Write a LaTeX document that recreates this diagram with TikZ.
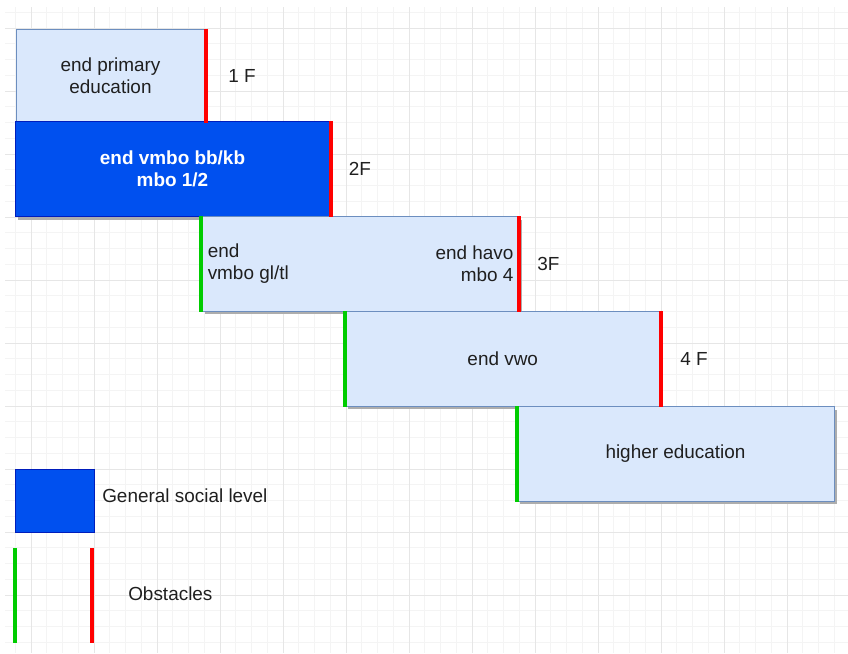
\documentclass[tikz,border=0pt]{standalone}
\usepackage{fontspec}
\setmainfont{Liberation Sans}
\usetikzlibrary{shadows}

\definecolor{boxfill}{HTML}{DAE8FC}
\definecolor{boxline}{HTML}{6C8EBF}
\definecolor{darkfill}{HTML}{0050EF}
\definecolor{darkline}{HTML}{001DBC}
\definecolor{barred}{HTML}{FF0000}
\definecolor{bargreen}{HTML}{00CC00}
\definecolor{gridminor}{HTML}{F4F4F4}
\definecolor{gridmajor}{HTML}{E6E6E6}

\begin{document}
\begin{tikzpicture}[x=0.75pt, y=-0.75pt,
  every node/.style={font=\fontsize{14.2pt}{16.5pt}\selectfont, text=black!88},
  shadowed/.style={drop shadow={shadow xshift=2.25pt, shadow yshift=-2.25pt, fill=black!32, opacity=1}},
  box/.style={draw=boxline, fill=boxfill, line width=0.75pt, inner sep=0pt, align=center,
    minimum width=236.25pt, minimum height=71pt},
  darkbox/.style={box, draw=darkline, fill=darkfill, text=white, font=\fontsize{14.2pt}{16.5pt}\selectfont\bfseries},
  lbl/.style={inner sep=0pt},
  redbar/.style={draw=barred, line width=3pt},
  greenbar/.style={draw=bargreen, line width=3pt},
  minorgrid/.style={draw=gridminor, line width=0.75pt},
  majorgrid/.style={draw=gridmajor, line width=0.75pt}]
\useasboundingbox (0,0) rectangle (848,653);
% Background grid
\begin{scope}
\clip (5,7) rectangle (848,653);
\foreach \i in {-1,...,51} \draw[minorgrid] ({31+\i*15.75},7) -- ({31+\i*15.75},653);
\foreach \j in {-1,...,39} \draw[minorgrid] (5,{28+\j*15.75}) -- (848,{28+\j*15.75});
\foreach \i in {0,...,12} \draw[majorgrid] ({31+\i*63},7) -- ({31+\i*63},653);
\foreach \j in {0,...,9} \draw[majorgrid] (5,{28+\j*63}) -- (848,{28+\j*63});
\end{scope}
% The school levels, one step lower each time
\node[box, shadowed, minimum width=141.75pt, minimum height=69.75pt] (prim) at (110.5,75.5) {end primary\\education};
\node[darkbox, shadowed] (vmbo) at (172.5,169.25) {end vmbo bb/kb\\mbo 1/2};
\node[box, shadowed, minimum width=237.4pt] (gltl) at (360.25,264) {};
\node[box, shadowed] (vwo) at (502.75,359) {end vwo};
\node[box, shadowed, minimum width=237.75pt] (higher) at (675.5,454) {higher education};
% Texts at both ends of the third step
\node[lbl, anchor=west, align=left] (gltlL) at ([xshift=4.5pt]gltl.west) {end\\vmbo gl/tl};
\node[lbl, anchor=east, align=right] (gltlR) at ([xshift=-4pt]gltl.east) {end havo\\mbo 4};
% Obstacles: red at the end of a step, green at the start
\draw[redbar] (prim.north east) -- (prim.south east);
\draw[redbar] (vmbo.north east) -- (vmbo.south east);
\draw[redbar] (gltl.north east) -- (gltl.south east);
\draw[redbar] (vwo.north east) -- (vwo.south east);
\draw[greenbar] (gltl.north west) -- (gltl.south west);
\draw[greenbar] (vwo.north west) -- (vwo.south west);
\draw[greenbar] (higher.north west) -- (higher.south west);
% Labels next to the red bars
\node[lbl, anchor=west] (f1) at ([xshift=17pt]prim.east) {1 F};
\node[lbl, anchor=west] (f2) at ([xshift=13.5pt]vmbo.east) {2F};
\node[lbl, anchor=west] (f3) at ([xshift=13.5pt]gltl.east) {3F};
\node[lbl, anchor=west] (f4) at ([xshift=14.5pt]vwo.east) {4 F};
% Legend
\node[darkbox, minimum width=59.25pt, minimum height=47.25pt] (key) at (54.5,500.5) {};
\node[lbl, anchor=west] (keytxt) at (102,496) {General social level};
\coordinate (g1) at (15,548);
\coordinate (g2) at (15,643);
\coordinate (r1) at (92,548);
\coordinate (r2) at (92,643);
\draw[greenbar] (g1) -- (g2);
\draw[redbar] (r1) -- (r2);
\node[lbl, anchor=west] (obs) at (128,594) {Obstacles};
\end{tikzpicture}
\end{document}
